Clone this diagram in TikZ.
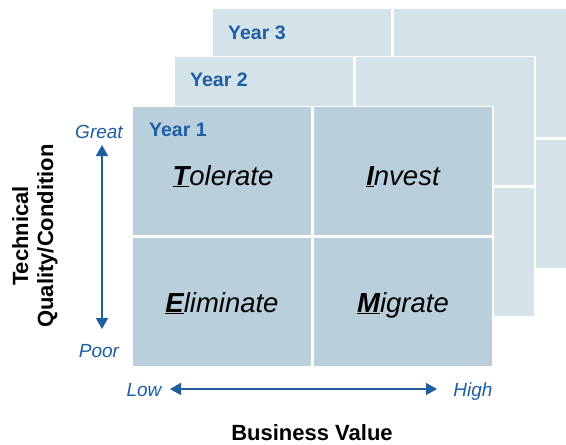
\documentclass[tikz,border=0pt]{standalone}
\usepackage{fontspec}
\setmainfont{Liberation Sans}
\usetikzlibrary{arrows.meta}
\definecolor{yonecol}{HTML}{B9CFDC}
\definecolor{ytwocol}{HTML}{D4E2E9}
\definecolor{lblblue}{HTML}{1B5EA6}
\definecolor{arrblue}{HTML}{1F5F9F}
\tikzset{
  cellbase/.style={minimum width=178pt, minimum height=128pt, inner sep=0pt, draw=none, anchor=north west},
  cellfront/.style={cellbase, fill=yonecol},
  cellback/.style={cellbase, fill=ytwocol},
  gridbg/.style={minimum width=362pt, minimum height=262pt, inner sep=0pt, draw=none, fill=white, anchor=north west},
  yearlbl/.style={font=\bfseries\fontsize{19.5}{19.5}\selectfont, text=lblblue, anchor=west, inner sep=0pt},
  quad/.style={font=\itshape\fontsize{27.5}{27.5}\selectfont, anchor=base, inner sep=0pt},
  axislbl/.style={font=\itshape\fontsize{19}{19}\selectfont, text=lblblue, inner sep=0pt, anchor=base},
  axtitle/.style={font=\bfseries\fontsize{22}{25}\selectfont, align=center, inner sep=0pt},
  biarrow/.style={draw=arrblue, line width=1.5pt, {Triangle[length=11pt,width=12pt]}-{Triangle[length=11pt,width=12pt]}}
}
\newcommand{\firstlet}[1]{\underline{\textbf{#1}}}
\begin{document}
\begin{tikzpicture}[x=1pt,y=-1pt]
\useasboundingbox (0,0) rectangle (566,445);
% Year 3
\node[gridbg] (bgthree) at (211.5,7.5) {};
\node[cellback] (c3a) at (213,9) {};
\node[cellback] (c3b) at (394,9) {};
\node[cellback] (c3c) at (213,140) {};
\node[cellback] (c3d) at (394,140) {};
\node[yearlbl] (y3) at (228,33) {Year 3};
% Year 2
\node[gridbg] (bgtwo) at (173.5,55.5) {};
\node[cellback] (c2a) at (175,57) {};
\node[cellback] (c2b) at (356,57) {};
\node[cellback] (c2c) at (175,188) {};
\node[cellback] (c2d) at (356,188) {};
\node[yearlbl] (y2) at (190,80) {Year 2};
% Year 1
\node[gridbg] (bgone) at (131.5,105.5) {};
\node[cellfront] (c1a) at (133,107) {};
\node[cellfront] (c1b) at (314,107) {};
\node[cellfront] (c1c) at (133,238) {};
\node[cellfront] (c1d) at (314,238) {};
\node[yearlbl] (y1) at (149,130) {Year 1};
% quadrant labels
\node[quad] (tol) at (223,185) {\firstlet{T}olerate};
\node[quad] (inv) at (403,185) {\firstlet{I}nvest};
\node[quad] (eli) at (222,312) {\firstlet{E}liminate};
\node[quad] (mig) at (403,312) {\firstlet{M}igrate};
% vertical axis
\node[axislbl] (great) at (99,138) {Great};
\node[axislbl] (poor) at (99,357) {Poor};
\coordinate (vt) at (102,145);
\coordinate (vb) at (102,329);
\draw[biarrow] (vt) -- (vb);
\node[axtitle, rotate=90] (ytitle) at (35,236) {Technical\\Quality/Condition};
% horizontal axis
\node[axislbl] (low) at (144,396) {Low};
\node[axislbl] (high) at (473,396) {High};
\coordinate (hl) at (170,389);
\coordinate (hr) at (437,389);
\draw[biarrow] (hl) -- (hr);
\node[axtitle] (xtitle) at (312,433) {Business Value};
\end{tikzpicture}
\end{document}
